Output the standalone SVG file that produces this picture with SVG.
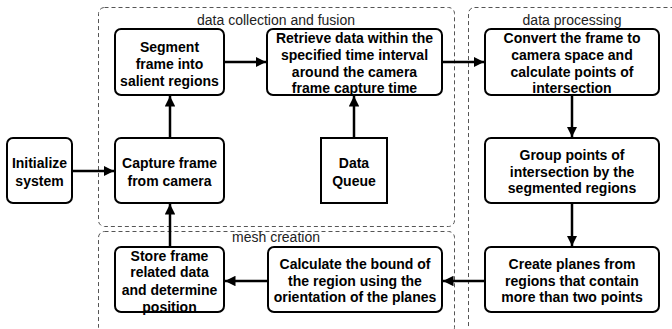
<svg xmlns="http://www.w3.org/2000/svg" width="672" height="329" viewBox="0 0 672 329">
<style>
.grp{fill:none;stroke:#555;stroke-width:1;stroke-dasharray:4 3}
.gl{font-family:"Liberation Sans",Arial,sans-serif;font-size:14px;fill:#222;text-anchor:middle}
.box{fill:#fff;stroke:#000;stroke-width:2}
.t{font-family:"Liberation Sans",Arial,sans-serif;font-size:14px;font-weight:bold;fill:#000;text-anchor:middle}
.c{fill:none;stroke:#000;stroke-width:2.5;marker-end:url(#ah)}
</style>
<defs>
<marker id="ah" viewBox="0 0 10 10" refX="10" refY="5" markerWidth="4.2" markerHeight="4.2" markerUnits="strokeWidth" orient="auto">
<path d="M0,0 L10,5 L0,10 Z" fill="#000"/>
</marker>
</defs>
<g id="group-data-collection">
<rect class="grp" x="98.5" y="7.5" width="356" height="219" rx="6"/>
<text class="gl" x="276" y="25">data collection and fusion</text>
</g>
<g id="group-data-processing">
<rect class="grp" x="468.5" y="7.5" width="215" height="326" rx="6"/>
<text class="gl" x="572" y="25">data processing</text>
</g>
<g id="group-mesh-creation">
<rect class="grp" x="98.5" y="231.5" width="356" height="102" rx="6"/>
<text class="gl" x="276" y="242">mesh creation</text>
</g>
<g id="connectors">
<line class="c" x1="72" y1="171" x2="114" y2="171"/>
<line class="c" x1="170" y1="138" x2="170" y2="96"/>
<line class="c" x1="224" y1="62" x2="266" y2="62"/>
<line class="c" x1="354" y1="138" x2="354" y2="96"/>
<line class="c" x1="442" y1="62" x2="484" y2="62"/>
<line class="c" x1="572" y1="95" x2="572" y2="137"/>
<line class="c" x1="572" y1="203" x2="572" y2="246"/>
<line class="c" x1="485" y1="281" x2="443" y2="281"/>
<line class="c" x1="268" y1="281" x2="225" y2="281"/>
<line class="c" x1="170" y1="247" x2="170" y2="204"/>
</g>
<g id="initialize">
<rect class="box" x="7" y="138" width="65" height="65" rx="6"/>
<text class="t" x="39.5" y="168">Initialize</text>
<text class="t" x="39.5" y="186">system</text>
</g>
<g id="capture">
<rect class="box" x="115" y="138" width="109" height="65" rx="6"/>
<text class="t" x="169.5" y="168">Capture frame</text>
<text class="t" x="169.5" y="186">from camera</text>
</g>
<g id="segment">
<rect class="box" x="115" y="29" width="109" height="66" rx="6"/>
<text class="t" x="169.5" y="52">Segment</text>
<text class="t" x="169.5" y="69">frame into</text>
<text class="t" x="169.5" y="86">salient regions</text>
</g>
<g id="retrieve">
<rect class="box" x="267" y="29" width="175" height="66" rx="6"/>
<text class="t" x="354.5" y="43">Retrieve data within the</text>
<text class="t" x="354.5" y="60">specified time interval</text>
<text class="t" x="354.5" y="77">around the camera</text>
<text class="t" x="354.5" y="93">frame capture time</text>
</g>
<g id="data-queue">
<rect class="box" x="321" y="138" width="66" height="65"/>
<text class="t" x="354" y="168">Data</text>
<text class="t" x="354" y="186">Queue</text>
</g>
<g id="convert">
<rect class="box" x="485" y="29" width="174" height="66" rx="6"/>
<text class="t" x="572" y="43">Convert the frame to</text>
<text class="t" x="572" y="60">camera space and</text>
<text class="t" x="572" y="77">calculate points of</text>
<text class="t" x="572" y="93">intersection</text>
</g>
<g id="group-points">
<rect class="box" x="485" y="138" width="174" height="65" rx="6"/>
<text class="t" x="572" y="160">Group points of</text>
<text class="t" x="572" y="177">intersection by the</text>
<text class="t" x="572" y="193">segmented regions</text>
</g>
<g id="create-planes">
<rect class="box" x="485" y="247" width="174" height="65" rx="6"/>
<text class="t" x="572" y="269">Create planes from</text>
<text class="t" x="572" y="286">regions that contain</text>
<text class="t" x="572" y="302">more than two points</text>
</g>
<g id="calculate-bound">
<rect class="box" x="268" y="247" width="174" height="65" rx="6"/>
<text class="t" x="355" y="269">Calculate the bound of</text>
<text class="t" x="355" y="286">the region using the</text>
<text class="t" x="355" y="302">orientation of the planes</text>
</g>
<g id="store-frame">
<rect class="box" x="115" y="247" width="109" height="65" rx="6"/>
<text class="t" x="169.5" y="261">Store frame</text>
<text class="t" x="169.5" y="277">related data</text>
<text class="t" x="169.5" y="295">and determine</text>
<text class="t" x="169.5" y="312">position</text>
</g>
</svg>
